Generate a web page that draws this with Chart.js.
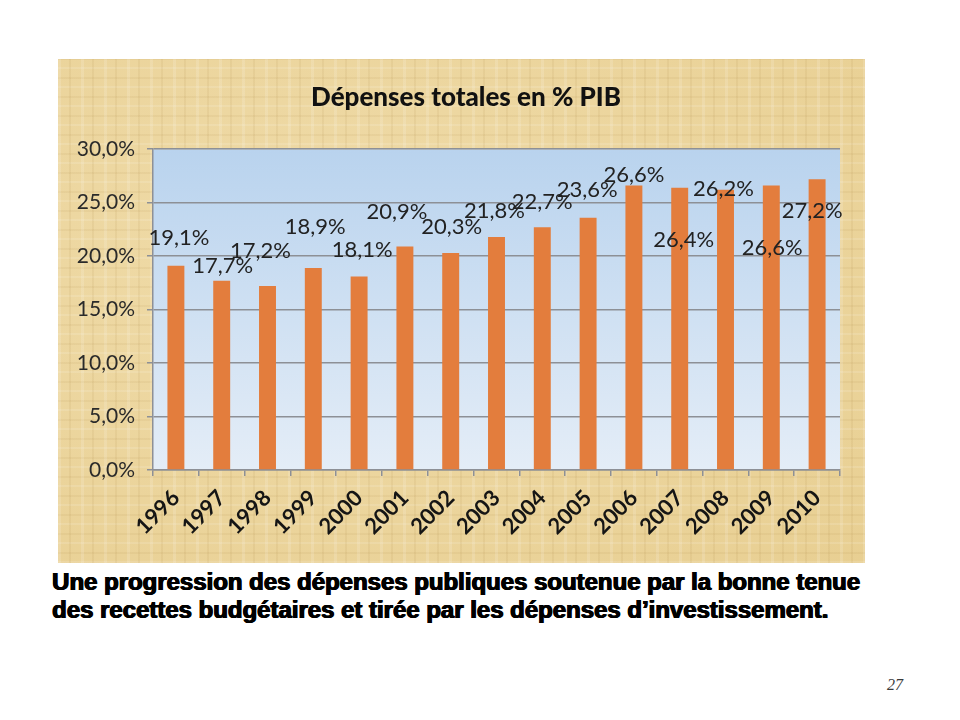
<!DOCTYPE html>
<html>
<head>
<meta charset="utf-8">
<script src="https://cdn.jsdelivr.net/npm/chart.js@4.4.1/dist/chart.umd.min.js"></script>
<style>
  body { margin: 0; background: #fff; width: 960px; height: 720px; position: relative; overflow: hidden; }
  #board {
    position: absolute; left: 58px; top: 59px; width: 807px; height: 504px;
    background:
      repeating-linear-gradient(90deg, rgba(255,255,255,0.14) 0 3px, rgba(0,0,0,0) 3px 11px, rgba(150,110,40,0.08) 11px 13px, rgba(0,0,0,0) 13px 23px),
      repeating-linear-gradient(0deg, rgba(255,255,255,0.12) 0 2px, rgba(0,0,0,0) 2px 9px, rgba(150,110,40,0.07) 9px 11px, rgba(0,0,0,0) 11px 19px),
      radial-gradient(ellipse at 35% 40%, #f0dcaa 0%, #e8cf92 100%);
  }
  #chart { position: absolute; left: 9px; top: 0; }
  #caption {
    position: absolute; left: 52px; top: 568px;
    font: bold 23px "Liberation Sans", Arial, sans-serif; color: #000;
    line-height: 28px; text-shadow: 0.8px 0 0 #000, -0.4px 0 0 #000, 0 0.4px 0 #000;
  }
  #caption div { white-space: nowrap; transform-origin: 0 0; width: max-content; }
  #page {
    position: absolute; left: 887px; top: 676px;
    font: 16px "Liberation Serif", serif; color: #3a3a3a; font-style: italic;
  }
</style>
</head>
<body>
<div id="board"><canvas id="chart" width="798" height="504"></canvas></div>
<div id="caption">
  <div>Une progression des dépenses publiques soutenue par la bonne tenue</div>
  <div>des recettes budgétaires et tirée par les dépenses d’investissement.</div>
</div>
<div id="page">27</div>
<script>
const years = ['1996', '1997', '1998', '1999', '2000', '2001', '2002', '2003', '2004', '2005', '2006', '2007', '2008', '2009', '2010'];
const spending = [19.1, 17.7, 17.2, 18.9, 18.1, 20.9, 20.3, 21.8, 22.7, 23.6, 26.6, 26.4, 26.2, 26.6, 27.2];
const yTickLabels = ['0,0%', '5,0%', '10,0%', '15,0%', '20,0%', '25,0%', '30,0%'];

// where each value label sits relative to the top of its bar (the slide has them hand-moved)
const labelShift = [[3, -28], [1, -15], [-7, -35], [2, -41], [3, -27], [-8, -35], [1, -26], [-2, -26],
                    [0, -25], [-1, -28], [0, -11], [4, 52], [-2, -1], [1, 62], [-5, 32]];

const plotBackground = {
    id: 'plotBackground',
    beforeDraw(chart) {
        const { ctx, chartArea: a } = chart;
        const g = ctx.createLinearGradient(0, a.top, 0, a.bottom);
        g.addColorStop(0, '#b9d3ee');
        g.addColorStop(1, '#e4edf7');
        ctx.save();
        ctx.fillStyle = g;
        ctx.fillRect(a.left, a.top, a.right - a.left, a.bottom - a.top);
        ctx.restore();
    }
};

const valueLabels = {
    id: 'valueLabels',
    afterDatasetsDraw(chart) {
        const ctx = chart.ctx;
        const meta = chart.getDatasetMeta(0);
        ctx.save();
        ctx.font = '22px Lato';
        ctx.fillStyle = '#222';
        ctx.textAlign = 'center';
        ctx.textBaseline = 'middle';
        meta.data.forEach((bar, i) => {
            const txt = spending[i].toFixed(1).replace('.', ',') + '%';
            ctx.fillText(txt, bar.x + labelShift[i][0], bar.y + labelShift[i][1]);
        });
        ctx.restore();
    }
};

new Chart(document.getElementById('chart'), {
    type: 'bar',
    data: {
        labels: years,
        datasets: [{
            data: spending,
            backgroundColor: '#e37d3d',
            barPercentage: 0.37,
            categoryPercentage: 1
        }]
    },
    options: {
        responsive: false,
        animation: false,
        layout: { padding: 0 },
        plugins: {
            legend: { display: false },
            tooltip: { enabled: false },
            title: {
                display: true,
                text: 'Dépenses totales en % PIB',
                color: '#111',
                font: { family: 'Lato', size: 26, weight: '900' },
                padding: { top: 23, bottom: 36 }
            }
        },
        scales: {
            x: {
                grid: { display: true, drawOnChartArea: false, drawTicks: true, tickLength: 6, color: '#8d9096', lineWidth: 1.5 },
                border: { display: true, color: '#8d9096', width: 1.5 },
                ticks: {
                    color: '#151515',
                    font: { family: 'Lato', size: 22, weight: 'bold' },
                    minRotation: 45, maxRotation: 45, padding: 9
                },
                afterFit(scale) { scale.height = 93; }
            },
            y: {
                min: 0, max: 30,
                grid: { color: '#8d9096', lineWidth: 1.5, tickLength: 6 },
                border: { display: true, color: '#8d9096', width: 1.5 },
                ticks: {
                    stepSize: 5,
                    color: '#2a2a2a',
                    font: { family: 'Lato', size: 21 },
                    padding: 12,
                    callback: (v, i) => yTickLabels[i]
                },
                afterFit(scale) { scale.width = 86; }
            },
            // empty strip on the right so the plot stops short of the frame
            gutter: {
                position: 'right',
                ticks: { display: false },
                grid: { display: false },
                border: { display: false },
                afterFit(scale) { scale.width = 25; }
            }
        }
    },
    plugins: [plotBackground, valueLabels]
});

// squeeze the caption lines to the width they take on the slide
const lines = document.querySelectorAll('#caption div');
const k = 808 / lines[0].getBoundingClientRect().width;
lines.forEach(l => { l.style.transform = 'scaleX(' + k + ')'; });
</script>
</body>
</html>
